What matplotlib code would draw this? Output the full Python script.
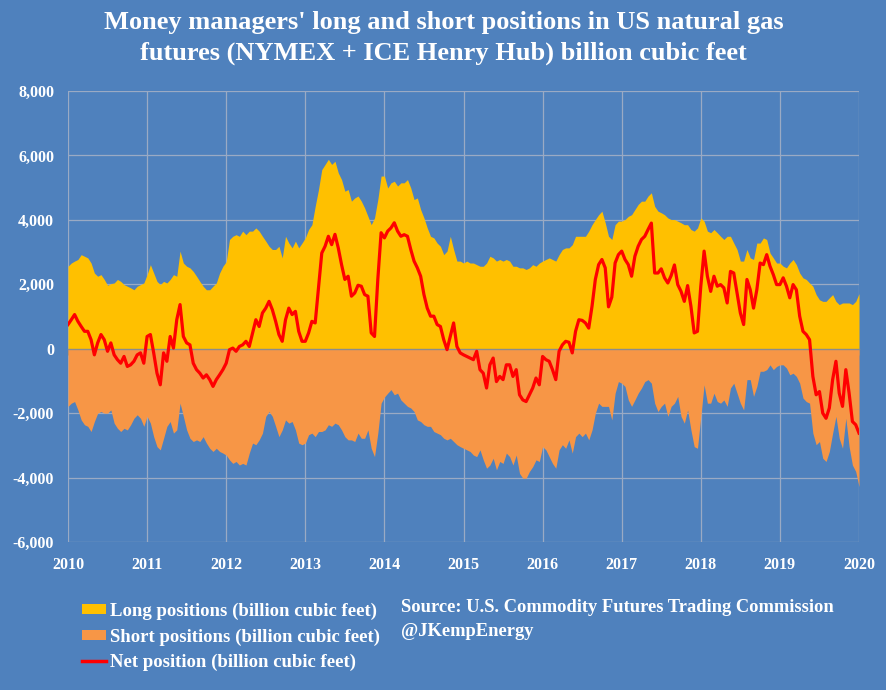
import numpy as np
import matplotlib
matplotlib.use("Agg")
import matplotlib.pyplot as plt
from matplotlib.patches import Patch
from matplotlib.lines import Line2D
from matplotlib.ticker import FuncFormatter

# semi-monthly samples, thousand billion cubic feet
long_k = [
 2.56, 2.66, 2.72, 2.77, 2.92, 2.87, 2.82, 2.66, 2.35, 2.25, 2.30, 2.15, 1.97, 2.02, 2.04, 2.15, 2.09, 1.99, 1.94, 1.89, 1.83, 1.94, 1.99, 2.04,
 2.30, 2.61, 2.35, 2.09, 1.99, 2.09, 2.04, 2.15, 2.30, 2.25, 3.03, 2.66, 2.56, 2.51, 2.40, 2.25, 2.09, 1.94, 1.83, 1.83, 1.94, 2.04, 2.35, 2.56,
 2.70, 3.39, 3.49, 3.54, 3.49, 3.65, 3.54, 3.65, 3.65, 3.75, 3.65, 3.49, 3.34, 3.18, 3.08, 3.08, 3.18, 2.82, 3.49, 3.28, 3.13, 3.34, 3.13, 3.28,
 3.44, 3.70, 3.85, 4.42, 4.94, 5.56, 5.72, 5.88, 5.72, 5.82, 5.46, 5.25, 4.89, 4.94, 4.58, 4.68, 4.74, 4.58, 4.37, 4.11, 3.85, 4.06, 4.63, 5.36,
 5.36, 4.99, 5.15, 5.20, 5.05, 5.15, 5.15, 5.25, 4.99, 4.63, 4.68, 4.32, 4.06, 3.75, 3.49, 3.44, 3.28, 3.18, 2.92, 3.03, 3.49, 3.08, 2.72, 2.72,
 2.66, 2.72, 2.66, 2.66, 2.61, 2.56, 2.56, 2.66, 2.87, 2.82, 2.72, 2.77, 2.72, 2.77, 2.72, 2.56, 2.56, 2.51, 2.51, 2.46, 2.51, 2.61, 2.56, 2.66,
 2.72, 2.77, 2.82, 2.77, 2.72, 2.92, 3.08, 3.13, 3.13, 3.23, 3.49, 3.49, 3.49, 3.49, 3.65, 3.85, 4.01, 4.16, 4.27, 3.91, 3.49, 3.39, 3.85, 3.96,
 3.96, 4.01, 4.11, 4.16, 4.32, 4.48, 4.58, 4.58, 4.74, 4.84, 4.42, 4.27, 4.22, 4.16, 4.06, 4.01, 4.01, 3.96, 3.91, 3.85, 3.85, 3.70, 3.65, 3.75,
 4.06, 3.96, 3.65, 3.60, 3.70, 3.60, 3.49, 3.39, 3.49, 3.49, 3.28, 3.08, 2.72, 2.72, 3.08, 2.82, 2.77, 3.28, 3.28, 3.44, 3.39, 2.97, 2.82, 2.66,
 2.66, 2.56, 2.51, 2.66, 2.77, 2.61, 2.35, 2.20, 2.15, 2.04, 1.94, 1.68, 1.52, 1.47, 1.47, 1.58, 1.68, 1.47, 1.37, 1.42, 1.42, 1.42, 1.37, 1.47, 1.71,
]

short_k = [
 -1.79, -1.69, -1.64, -1.90, -2.21, -2.36, -2.41, -2.57, -2.26, -2.00, -1.95, -2.00, -2.00, -1.90, -2.31, -2.47, -2.57, -2.47, -2.52, -2.36, -2.16, -2.05, -2.16, -2.41,
 -2.10, -2.31, -2.73, -3.04, -3.14, -2.78, -2.41, -2.26, -2.62, -2.52, -1.69, -2.10, -2.52, -2.78, -2.88, -2.83, -2.88, -2.73, -2.93, -3.09, -3.19, -3.09, -3.19, -3.24,
 -3.30, -3.45, -3.56, -3.50, -3.61, -3.56, -3.61, -3.24, -2.93, -2.98, -2.83, -2.62, -2.10, -1.95, -2.10, -2.41, -2.73, -2.52, -2.21, -2.31, -2.26, -2.52, -2.93, -2.98,
 -2.93, -2.67, -2.62, -2.73, -2.57, -2.57, -2.52, -2.36, -2.41, -2.31, -2.36, -2.52, -2.73, -2.83, -2.83, -2.88, -2.62, -2.78, -2.78, -2.52, -3.09, -3.35, -2.62, -1.69,
 -1.50, -1.38, -1.27, -1.43, -1.38, -1.59, -1.69, -1.79, -1.84, -1.95, -2.21, -2.26, -2.36, -2.41, -2.41, -2.57, -2.62, -2.67, -2.78, -2.83, -2.78, -2.88, -2.98, -3.04,
 -3.09, -3.14, -3.19, -3.30, -3.35, -3.14, -3.45, -3.71, -3.61, -3.40, -3.76, -3.50, -3.56, -3.24, -3.35, -3.61, -3.30, -3.87, -4.02, -4.02, -3.81, -3.66, -3.45, -3.50,
 -3.04, -3.14, -3.35, -3.56, -3.71, -3.14, -2.98, -3.09, -2.83, -3.24, -2.73, -2.62, -2.73, -2.62, -2.83, -2.52, -2.00, -1.69, -1.79, -1.79, -1.79, -2.21, -1.38, -1.02,
 -1.07, -1.17, -1.59, -1.79, -1.59, -1.38, -1.22, -1.02, -0.96, -1.07, -1.69, -1.95, -1.79, -1.69, -2.10, -1.79, -1.69, -1.48, -2.10, -2.31, -1.90, -2.52, -3.04, -3.09,
 -2.10, -1.12, -1.69, -1.69, -1.38, -1.64, -1.69, -1.59, -1.79, -1.22, -1.07, -1.38, -1.69, -1.90, -0.96, -0.96, -1.48, -1.17, -0.70, -0.70, -0.65, -0.50, -0.65, -0.55,
 -0.50, -0.50, -0.60, -0.81, -0.76, -0.86, -1.07, -1.53, -1.64, -1.69, -2.62, -2.98, -2.88, -3.40, -3.50, -3.19, -2.62, -2.10, -2.78, -3.09, -2.16, -3.04, -3.61, -3.81, -4.28,
]

net_k = [
 0.75, 0.90, 1.06, 0.85, 0.69, 0.54, 0.54, 0.28, -0.19, 0.18, 0.44, 0.28, -0.08, 0.18, -0.19, -0.34, -0.45, -0.24, -0.55, -0.50, -0.39, -0.19, -0.13, -0.45,
 0.38, 0.44, -0.13, -0.76, -1.12, -0.13, -0.39, 0.38, 0.02, 0.90, 1.37, 0.38, 0.18, 0.12, -0.45, -0.65, -0.76, -0.91, -0.81, -0.96, -1.17, -0.96, -0.81, -0.65,
 -0.45, -0.03, 0.02, -0.08, 0.07, 0.12, 0.23, 0.07, 0.49, 0.90, 0.69, 1.11, 1.26, 1.47, 1.21, 0.85, 0.44, 0.23, 0.90, 1.26, 1.06, 1.16, 0.54, 0.23,
 0.23, 0.49, 0.85, 0.80, 1.89, 2.97, 3.18, 3.49, 3.23, 3.55, 3.13, 2.61, 2.15, 2.25, 1.63, 1.73, 1.97, 1.94, 1.68, 1.63, 0.49, 0.38, 2.15, 3.60,
 3.44, 3.65, 3.75, 3.91, 3.65, 3.49, 3.54, 3.49, 3.08, 2.72, 2.51, 2.25, 1.68, 1.26, 1.01, 1.01, 0.75, 0.69, 0.28, -0.03, 0.38, 0.80, 0.07, -0.13,
 -0.19, -0.24, -0.29, -0.34, -0.08, -0.65, -0.76, -1.22, -0.50, -0.29, -1.02, -0.86, -0.96, -0.50, -0.50, -0.86, -0.65, -1.43, -1.59, -1.64, -1.43, -1.22, -0.91, -1.12,
 -0.24, -0.34, -0.39, -0.65, -0.96, -0.08, 0.12, 0.23, 0.20, -0.13, 0.54, 0.90, 0.88, 0.80, 0.64, 1.32, 2.15, 2.61, 2.77, 2.51, 1.30, 1.60, 2.66, 2.92,
 3.03, 2.77, 2.61, 2.25, 2.87, 3.18, 3.39, 3.49, 3.70, 3.90, 2.35, 2.35, 2.48, 2.20, 2.04, 2.27, 2.60, 1.99, 1.78, 1.47, 1.96, 1.32, 0.49, 0.54,
 1.94, 3.03, 2.25, 1.78, 2.25, 1.94, 1.99, 1.89, 1.42, 2.40, 2.35, 1.73, 1.11, 0.75, 2.15, 1.83, 1.26, 1.83, 2.66, 2.61, 2.92, 2.56, 2.30, 1.99,
 1.99, 2.20, 1.94, 1.58, 1.99, 1.83, 1.01, 0.54, 0.44, 0.28, -0.86, -1.43, -1.33, -2.00, -2.16, -1.84, -0.96, -0.39, -1.38, -1.79, -0.65, -1.38, -2.26, -2.36, -2.62,
]

start_year = 2010
samples_per_year = 24
years = list(range(2010, 2021))
y_ticks = [-6000, -4000, -2000, 0, 2000, 4000, 6000, 8000]

title_lines = ["Money managers' long and short positions in US natural gas",
               "futures (NYMEX + ICE Henry Hub) billion cubic feet"]
legend_labels = ["Long positions (billion cubic feet)",
                 "Short positions (billion cubic feet)",
                 "Net position (billion cubic feet)"]
source_lines = ["Source: U.S. Commodity Futures Trading Commission", "@JKempEnergy"]

BG = "#4F81BD"
C_LONG = "#FFC000"
C_SHORT = "#F79646"
C_NET = "#FF0000"
GRID = "#9AAAC4"
FONT = ["Liberation Serif", "DejaVu Serif"]

long_v = np.array(long_k) * 1000
short_v = np.array(short_k) * 1000
net_v = np.array(net_k) * 1000
x = start_year + np.arange(len(long_v)) / samples_per_year

plt.rcParams['font.family'] = FONT
fig = plt.figure(figsize=(8.87, 6.90), dpi=100, facecolor=BG)
ax = fig.add_axes([68/887, 1-542/690, (859-68)/887, (542-91)/690])
ax.set_facecolor(BG)

ax.fill_between(x, 0, long_v, color=C_LONG, linewidth=0, zorder=2)
ax.fill_between(x, 0, short_v, color=C_SHORT, linewidth=0, zorder=2)
ax.plot(x, net_v, color=C_NET, linewidth=2.3, zorder=4, solid_joinstyle='round')

ax.set_xlim(years[0], years[-1])
ax.set_ylim(y_ticks[0], y_ticks[-1])
ax.set_yticks(y_ticks)
ax.yaxis.set_major_formatter(FuncFormatter(lambda v, p: f"{int(v):,}"))
ax.set_xticks(years)
ax.grid(True, color=GRID, linewidth=0.9, zorder=1)
ax.set_axisbelow(True)
for s in ['top', 'right', 'left']:
    ax.spines[s].set_visible(False)
ax.spines['bottom'].set_position(('data', 0))
ax.spines['bottom'].set_color('#8C8C8C')
ax.spines['bottom'].set_linewidth(1.0)
ax.spines['bottom'].set_zorder(3)
ax.tick_params(axis='x', which='both', direction='out', length=4, color='#8C8C8C',
               labelbottom=False)
ax.tick_params(axis='y', length=0, pad=10, labelcolor='white', labelsize=11.5)
for lab in ax.get_yticklabels():
    lab.set_fontweight('bold')

sec = ax.secondary_xaxis(0)
sec.set_xticks(years)
sec.tick_params(length=0, pad=11, labelcolor='white', labelsize=11.5)
sec.spines['bottom'].set_visible(False)
for lab in sec.get_xticklabels():
    lab.set_fontweight('bold')

fig.text(0.5, 1-22/690, title_lines[0], ha='center', va='center', color='white',
         fontsize=19, fontweight='bold')
fig.text(0.5, 1-53/690, title_lines[1], ha='center', va='center', color='white',
         fontsize=19, fontweight='bold')

handles = [Patch(facecolor=C_LONG, edgecolor='none'),
           Patch(facecolor=C_SHORT, edgecolor='none'),
           Line2D([0], [0], color=C_NET, linewidth=2.5)]
fs_leg = 13.5
leg = fig.legend(handles, legend_labels, loc='upper left',
                 bbox_to_anchor=(74/887, 1-595/690), frameon=False,
                 borderaxespad=0, borderpad=0.4,
                 handlelength=1.33, handleheight=0.48, handletextpad=0.2,
                 labelspacing=0.45,
                 prop={'family': FONT, 'weight': 'bold', 'size': fs_leg})
for t in leg.get_texts():
    t.set_color('white')

fig.text(401/887, 1-608/690, source_lines[0], ha='left', va='center', color='white',
         fontsize=13.3, fontweight='bold')
fig.text(401/887, 1-632/690, source_lines[1], ha='left', va='center', color='white',
         fontsize=13.3, fontweight='bold')

fig.savefig("out.png", dpi=100, facecolor=BG)
